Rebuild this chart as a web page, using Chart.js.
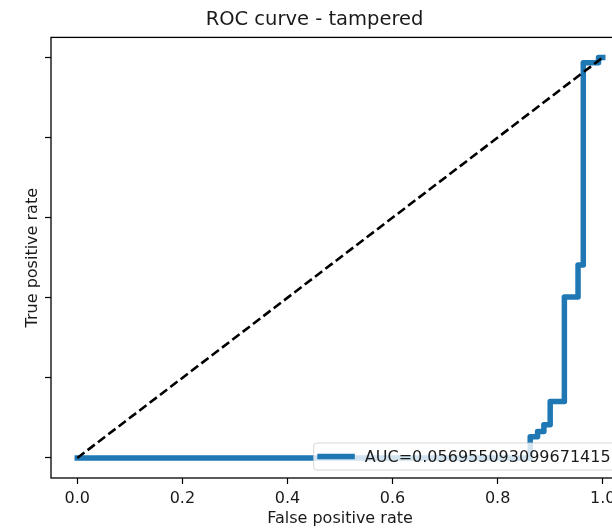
<!DOCTYPE html>
<html>
<head>
<meta charset="utf-8">
<script src="https://cdn.jsdelivr.net/npm/chart.js@4.4.0/dist/chart.umd.min.js"></script>
<style>
  html, body { margin: 0; padding: 0; background: #fff; overflow: hidden; }
  #roc { display: block; }
</style>
</head>
<body>
<canvas id="roc" width="660" height="528"></canvas>
<script>
// ROC curve (false positive rate / true positive rate)
const fpr = [0, 0.862, 0.862, 0.876, 0.876, 0.888, 0.888, 0.900, 0.900, 0.927, 0.927, 0.953, 0.953, 0.963, 0.963, 0.992, 0.992, 1.0];
const tpr = [0, 0, 0.053, 0.053, 0.066, 0.066, 0.083, 0.083, 0.141, 0.141, 0.402, 0.402, 0.482, 0.482, 0.987, 0.987, 1.0, 1.0];
const chanceX = [0, 1];
const chanceY = [0, 1];
const aucLabel = 'AUC=0.056955093099671415';
const xTicks = [0, 0.2, 0.4, 0.6, 0.8, 1.0];
const yTicks = [0, 0.2, 0.4, 0.6, 0.8, 1.0];

const blue = 'rgb(31,119,180)';
const ink = '#1a1a1a';
Chart.defaults.font.family = '"DejaVu Sans", sans-serif';
Chart.defaults.color = ink;

// box around the axes + matplotlib-style legend in the lower right
const framePlugin = {
    id: 'frame',
    afterDraw(chart) {
        const ctx = chart.ctx;
        const a = chart.chartArea;
        ctx.save();
        ctx.strokeStyle = '#000';
        ctx.lineWidth = 1.3;
        ctx.strokeRect(a.left, a.top, a.right - a.left, a.bottom - a.top);

        ctx.font = '16px "DejaVu Sans"';
        const tw = ctx.measureText(aucLabel).width;
        const fs = 16;
        const w = fs * 0.4 + fs * 2 + fs * 0.8 + tw + fs * 0.4;
        const h = 27;
        const right = a.right - 12;
        const bottom = a.bottom - fs * 0.5;
        const left = right - w;
        const top = bottom - h;
        ctx.beginPath();
        ctx.roundRect(left, top, w, h, 3);
        ctx.fillStyle = 'rgba(255,255,255,0.8)';
        ctx.fill();
        ctx.strokeStyle = 'rgba(204,204,204,0.8)';
        ctx.lineWidth = 1;
        ctx.stroke();

        const cy = top + h / 2;
        const hx = left + fs * 0.4;
        ctx.beginPath();
        ctx.moveTo(hx, cy);
        ctx.lineTo(hx + fs * 2, cy);
        ctx.strokeStyle = blue;
        ctx.lineWidth = 5.5;
        ctx.lineCap = 'square';
        ctx.stroke();

        ctx.fillStyle = ink;
        ctx.textBaseline = 'middle';
        ctx.fillText(aucLabel, hx + fs * 2 + fs * 0.8, cy + 1);
        ctx.restore();
    }
};

new Chart(document.getElementById('roc'), {
    type: 'line',
    data: {
        datasets: [
            {
                label: 'chance',
                data: chanceX.map((x, i) => ({ x: x, y: chanceY[i] })),
                borderColor: '#000',
                borderWidth: 2.6,
                borderDash: [9, 4],
                pointRadius: 0,
                order: 0
            },
            {
                label: aucLabel,
                data: fpr.map((x, i) => ({ x: x, y: tpr[i] })),
                borderColor: blue,
                borderWidth: 5.5,
                borderCapStyle: 'square',
                borderJoinStyle: 'round',
                pointRadius: 0,
                order: 1
            }
        ]
    },
    options: {
        responsive: false,
        devicePixelRatio: 1,
        animation: false,
        layout: { padding: { left: 0, right: 31, top: 0, bottom: 0 } },
        plugins: {
            legend: { display: false },
            tooltip: { enabled: false },
            title: {
                display: true,
                text: 'ROC curve - tampered',
                color: ink,
                font: { size: 19.5, weight: 'normal' },
                padding: { top: 8, bottom: 6 }
            }
        },
        scales: {
            x: {
                type: 'linear',
                min: -0.05,
                max: 1.05,
                afterBuildTicks: (scale) => { scale.ticks = xTicks.map(v => ({ value: v })); },
                afterFit: (scale) => { scale.height = 50; },
                ticks: {
                    color: ink,
                    font: { size: 16 },
                    padding: 5,
                    maxRotation: 0,
                    callback: (v) => Number(v).toFixed(1)
                },
                grid: { drawOnChartArea: false, drawTicks: true, tickLength: 6, tickColor: '#000', tickWidth: 1.2 },
                border: { display: false },
                title: {
                    display: true,
                    text: 'False positive rate',
                    color: ink,
                    font: { size: 16 },
                    padding: { top: 0, bottom: 0 }
                }
            },
            y: {
                type: 'linear',
                min: -0.05,
                max: 1.05,
                afterBuildTicks: (scale) => { scale.ticks = yTicks.map(v => ({ value: v })); },
                afterFit: (scale) => { scale.width = 51; },
                ticks: { display: false },
                grid: { drawOnChartArea: false, drawTicks: true, tickLength: 6, tickColor: '#000', tickWidth: 1.2 },
                border: { display: false },
                title: {
                    display: true,
                    text: 'True positive rate',
                    color: ink,
                    font: { size: 16 },
                    padding: { top: 23, bottom: 0 }
                }
            }
        }
    },
    plugins: [framePlugin]
});
</script>
</body>
</html>
